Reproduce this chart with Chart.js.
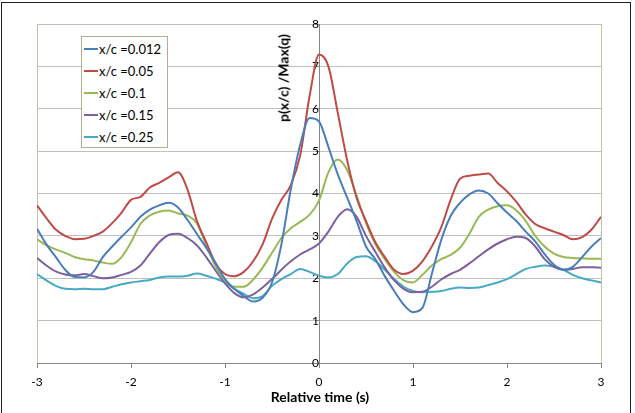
<!DOCTYPE html>
<html>
<head>
<meta charset="utf-8">
<script src="https://cdn.jsdelivr.net/npm/chart.js@4.4.0/dist/chart.umd.min.js"></script>
<style>
  html, body { margin: 0; padding: 0; background: #fff; }
  #wrap { position: relative; width: 635px; height: 413px; font-family: Lato, "Liberation Sans", sans-serif; }
  #frame { position: absolute; left: 1px; top: 2px; width: 630px; height: 420px; border: 1px solid #222; box-sizing: border-box; pointer-events: none; }
  #legend { position: absolute; left: 81px; top: 36px; width: 87px; height: 112px; background: #fff; border: 1px solid #b4ad96; box-sizing: border-box; padding-top: 1px; }
  .item { height: 22px; display: flex; align-items: center; font-size: 13px; color: #000; }
  .item i { display: inline-block; width: 14px; height: 2px; margin: 0 1px 0 2px; }
  #ytitle { position: absolute; left: 283px; top: 78px; transform: translate(-50%, -50%) rotate(-90deg); font-weight: bold; font-size: 14px; white-space: nowrap; color: #000; }
  #xtitle { position: absolute; left: 320px; top: 396px; transform: translate(-50%, -50%); font-weight: bold; font-size: 14px; white-space: nowrap; color: #000; }
</style>
</head>
<body>
<div id="wrap">
  <canvas id="chart" width="635" height="413"></canvas>
  <div id="legend"></div>
  <div id="ytitle">p(x/c) /Max(q)</div>
  <div id="xtitle">Relative time (s)</div>
  <div id="frame"></div>
</div>
<script>
// tempo relativo (s), passo de 0.1
const tempos = [];
for (let i = -30; i <= 30; i++) tempos.push(i / 10);

const serieNomes = ['x/c =0.012', 'x/c =0.05', 'x/c =0.1', 'x/c =0.15', 'x/c =0.25'];
const serieCores = ['#4a7ebb', '#be4b48', '#98b954', '#7d60a0', '#46aac5'];

const xc012 = [3.17, 2.8, 2.5, 2.2, 2.03, 2.02, 2.15, 2.5, 2.75, 2.98,
  3.2, 3.45, 3.62, 3.72, 3.78, 3.67, 3.38, 3.05, 2.72, 2.36,
  1.98, 1.75, 1.58, 1.45, 1.54, 1.9, 2.8, 4.1, 5.15, 5.78,
  5.7, 5.1, 4.45, 3.9, 3.35, 2.75, 2.45, 2.05, 1.7, 1.38,
  1.2, 1.3, 2.1, 2.9, 3.47, 3.78, 3.98, 4.07, 4.0, 3.77,
  3.55, 3.35, 3.1, 2.87, 2.57, 2.32, 2.2, 2.27, 2.5, 2.75, 2.95];

const xc05 = [3.72, 3.42, 3.15, 3.0, 2.92, 2.93, 3.0, 3.1, 3.3, 3.55,
  3.85, 3.92, 4.14, 4.25, 4.38, 4.5, 4.1, 3.36, 2.85, 2.35,
  2.1, 2.05, 2.15, 2.4, 2.8, 3.4, 3.85, 4.2, 4.9, 6.3,
  7.28, 7.0, 5.9, 4.78, 3.9, 3.35, 2.85, 2.5, 2.2, 2.1,
  2.18, 2.4, 2.75, 3.2, 3.85, 4.35, 4.42, 4.45, 4.47, 4.25,
  4.05, 3.8, 3.5, 3.28, 3.18, 3.1, 3.02, 2.92, 2.97, 3.15, 3.45];

const xc10 = [2.92, 2.78, 2.68, 2.6, 2.5, 2.45, 2.42, 2.37, 2.34, 2.5,
  2.85, 3.28, 3.48, 3.57, 3.6, 3.53, 3.48, 3.3, 2.78, 2.28,
  1.95, 1.8, 1.8, 1.97, 2.25, 2.6, 2.95, 3.18, 3.33, 3.5,
  3.83, 4.5, 4.8, 4.55, 3.95, 3.3, 2.8, 2.45, 2.15, 1.95,
  1.9, 2.08, 2.3, 2.45, 2.55, 2.72, 3.05, 3.45, 3.62, 3.7,
  3.72, 3.6, 3.35, 3.0, 2.75, 2.58, 2.5, 2.48, 2.47, 2.46, 2.46];

const xc15 = [2.48, 2.3, 2.16, 2.09, 2.07, 2.1, 2.05, 2.0, 2.02, 2.08,
  2.15, 2.3, 2.58, 2.85, 3.02, 3.05, 2.95, 2.78, 2.5, 2.18,
  1.88, 1.65, 1.55, 1.62, 1.78, 1.98, 2.2, 2.4, 2.56, 2.68,
  2.82, 3.1, 3.45, 3.63, 3.45, 3.0, 2.62, 2.25, 1.95, 1.75,
  1.67, 1.68, 1.8, 1.97, 2.1, 2.2, 2.35, 2.52, 2.68, 2.82,
  2.92, 2.98, 2.95, 2.75, 2.45, 2.27, 2.2, 2.22, 2.26, 2.26, 2.25];

const xc25 = [2.1, 1.95, 1.82, 1.75, 1.74, 1.75, 1.74, 1.74, 1.8, 1.86,
  1.9, 1.93, 1.96, 2.02, 2.04, 2.04, 2.06, 2.11, 2.06, 1.99,
  1.9, 1.75, 1.63, 1.53, 1.58, 1.82, 1.98, 2.1, 2.22, 2.15,
  2.06, 2.02, 2.1, 2.35, 2.5, 2.52, 2.4, 2.2, 1.98, 1.8,
  1.7, 1.67, 1.68, 1.7, 1.75, 1.78, 1.77, 1.78, 1.84, 1.9,
  1.98, 2.1, 2.22, 2.27, 2.3, 2.27, 2.2, 2.08, 2.0, 1.95, 1.9];

const series = [xc012, xc05, xc10, xc15, xc25];

const fonte = 'Lato, "Liberation Sans", sans-serif';

const datasets = series.map((valores, i) => ({
  label: serieNomes[i],
  data: valores.map((v, k) => ({ x: tempos[k], y: v })),
  borderColor: serieCores[i],
  backgroundColor: serieCores[i],
  borderWidth: 2,
  pointRadius: 0,
  cubicInterpolationMode: 'monotone',
  fill: false
}));

const chart = new Chart(document.getElementById('chart'), {
  type: 'line',
  data: { datasets },
  options: {
    responsive: false,
    animation: false,
    layout: { padding: { left: 37, right: 34, top: 24, bottom: 17 } },
    plugins: { legend: { display: false }, tooltip: { enabled: false } },
    scales: {
      x: {
        type: 'linear',
        min: -3, max: 3,
        ticks: { stepSize: 1, color: '#000', padding: 8, font: { family: fonte, size: 12, lineHeight: 1 } },
        grid: {
          color: ctx => (ctx.tick && Math.abs(ctx.tick.value) === 3) ? '#c8c0a8' : 'transparent',
          tickColor: '#868686',
          tickLength: 5
        },
        border: { color: '#868686' }
      },
      y: {
        position: { x: 0 },
        min: 0, max: 8,
        ticks: { stepSize: 1, color: '#000', padding: 7, font: { family: fonte, size: 12 } },
        grid: { color: '#c0c0c0', tickColor: '#868686', tickLength: 4 },
        border: { color: '#868686' }
      }
    }
  }
});

// legenda em HTML
const legenda = document.getElementById('legend');
chart.data.datasets.forEach(ds => {
  const item = document.createElement('div');
  item.className = 'item';
  item.innerHTML = `<i style="background:${ds.borderColor}"></i><span>${ds.label}</span>`;
  legenda.appendChild(item);
});
</script>
</body>
</html>
